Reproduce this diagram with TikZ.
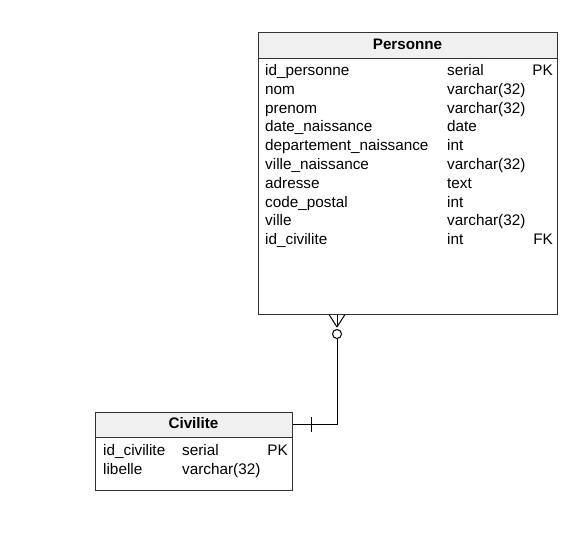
\documentclass[tikz,border=0pt]{standalone}
\usepackage{fontspec}
\setmainfont{Liberation Sans}
\definecolor{edge}{HTML}{333333}
\definecolor{hdr}{HTML}{F0F0F0}
\begin{document}
\begin{tikzpicture}[x=1pt,y=-1pt,
  tbox/.style={draw=edge,line width=1pt,fill=white,inner sep=0pt},
  thead/.style={draw=edge,line width=1pt,fill=hdr,inner sep=0pt},
  ttitle/.style={font=\fontsize{15.2}{18}\selectfont\bfseries,inner sep=0pt},
  cell/.style={font=\fontsize{15.3}{18}\selectfont,inner sep=0pt,anchor=base west},
  cellr/.style={font=\fontsize{15.3}{18}\selectfont,inner sep=0pt,anchor=base east},
  conn/.style={draw=black,line width=1pt}]
\useasboundingbox (0,0) rectangle (588,538);
% Personne
\node[tbox,minimum width=299pt,minimum height=282pt] (pers) at (407.5,173) {};
\node[thead,minimum width=299pt,minimum height=26pt] (persh) at (407.5,45) {};
\node[ttitle] (perst) at (407.5,44) {Personne};
\foreach \n/\t/\k [count=\i from 0] in {id\_personne/serial/PK, nom/varchar(32)/, prenom/varchar(32)/, date\_naissance/date/, departement\_naissance/int/, ville\_naissance/varchar(32)/, adresse/text/, code\_postal/int/, ville/varchar(32)/, id\_civilite/int/FK}{
  \node[cell] (pn\i) at (265,75.5+18.8*\i) {\n};
  \node[cell] (pt\i) at (447,75.5+18.8*\i) {\t};
  \node[cellr] (pk\i) at (553,75.5+18.8*\i) {\k};
}
% Civilite
\node[tbox,minimum width=197pt,minimum height=78pt] (civ) at (193.5,451) {};
\node[thead,minimum width=197pt,minimum height=25pt] (civh) at (193.5,424.5) {};
\node[ttitle] (civt) at (193.5,423.5) {Civilite};
\node[cell] (cn0) at (103,455.5) {id\_civilite};
\node[cell] (ct0) at (182,455.5) {serial};
\node[cellr] (ck0) at (288,455.5) {PK};
\node[cell] (cn1) at (103,474.3) {libelle};
\node[cell] (ct1) at (182,474.3) {varchar(32)};
% connector
\coordinate (ptop) at (pers.south -| 337,0);
\coordinate (cross) at (337,327);
\coordinate (circ) at (337,334);
\coordinate (bend) at (337,424.5);
\draw[conn] (circ) ++(0,4.5) -- (bend) -- (civh.east);
\draw[conn] (circ) circle[radius=4.5pt];
\draw[conn] (cross) -- (pers.south -| 329,0);
\draw[conn] (cross) -- (ptop);
\draw[conn] (cross) -- (pers.south -| 345,0);
\coordinate (bar) at (311,424.5);
\draw[conn] (bar) ++(0,-7.5) -- ++(0,15);
\end{tikzpicture}
\end{document}
